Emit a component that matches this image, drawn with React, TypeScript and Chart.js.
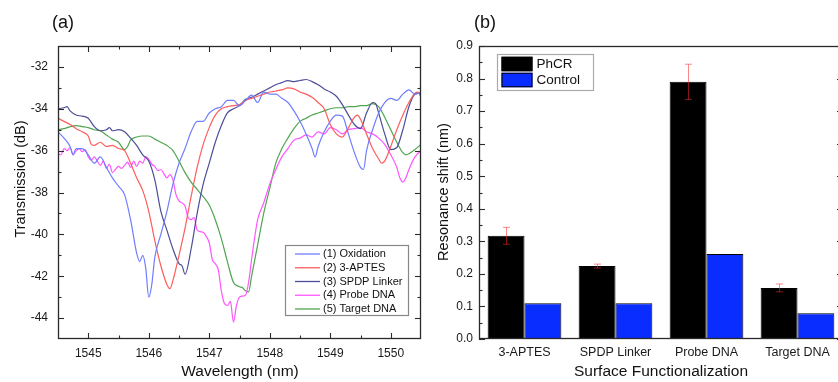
import React, { useEffect, useRef } from 'react';
import { Chart, registerables } from 'chart.js';

Chart.register(...registerables);

const FONT = "'Liberation Sans', Arial, sans-serif";

// ---------- Panel (a) data ----------
const wavelengthTicks = [1545, 1546, 1547, 1548, 1549, 1550];
const transmissionTicks = [-44, -42, -40, -38, -36, -34, -32];

const oxidation: [number, number][] = [
  [1544.5, -35.1], [1544.6, -35.4], [1544.7, -35.8], [1544.75, -36.2], [1544.8, -35.9], [1544.9, -35.9],
  [1545.0, -36.2], [1545.1, -36.6], [1545.2, -36.3], [1545.3, -36.8], [1545.4, -37.3], [1545.5, -37.7],
  [1545.6, -38.1], [1545.7, -39.3], [1545.8, -40.9], [1545.85, -41.3], [1545.9, -41.0], [1545.95, -41.6],
  [1546.0, -43.0], [1546.05, -42.4], [1546.1, -41.1], [1546.2, -40.0], [1546.3, -38.9], [1546.4, -37.6],
  [1546.5, -36.6], [1546.6, -35.9], [1546.7, -35.1], [1546.8, -34.6], [1546.9, -34.6], [1547.0, -34.2],
  [1547.1, -34.0], [1547.2, -33.9], [1547.3, -33.6], [1547.4, -33.6], [1547.5, -33.85], [1547.6, -33.6],
  [1547.7, -33.35], [1547.8, -33.7], [1547.9, -33.2], [1548.0, -33.3], [1548.1, -33.3], [1548.2, -33.5],
  [1548.3, -33.7], [1548.4, -34.1], [1548.5, -34.6], [1548.6, -35.2], [1548.7, -35.9], [1548.75, -36.3],
  [1548.8, -35.8], [1548.9, -35.1], [1549.0, -34.6], [1549.1, -34.3], [1549.2, -34.35], [1549.3, -35.2],
  [1549.4, -36.1], [1549.5, -36.8], [1549.55, -36.9], [1549.6, -36.0], [1549.7, -35.0], [1549.8, -34.2],
  [1549.9, -33.7], [1550.0, -33.5], [1550.1, -33.6], [1550.2, -33.3], [1550.3, -33.1], [1550.4, -33.3],
  [1550.5, -33.2],
];

const aptes: [number, number][] = [
  [1544.5, -34.45], [1544.6, -34.6], [1544.7, -34.75], [1544.8, -34.95], [1544.9, -35.1], [1545.0, -35.3],
  [1545.05, -35.7], [1545.1, -35.75], [1545.2, -35.6], [1545.3, -35.8], [1545.4, -35.75], [1545.5, -35.9],
  [1545.6, -36.0], [1545.7, -36.6], [1545.8, -37.3], [1545.9, -37.9], [1546.0, -38.9], [1546.1, -40.3],
  [1546.2, -41.5], [1546.3, -42.4], [1546.35, -42.6], [1546.4, -42.2], [1546.5, -41.0], [1546.6, -39.7],
  [1546.7, -38.2], [1546.8, -36.8], [1546.9, -35.7], [1547.0, -34.9], [1547.1, -34.3], [1547.2, -34.0],
  [1547.3, -33.9], [1547.4, -33.85], [1547.5, -33.8], [1547.6, -33.6], [1547.7, -33.5], [1547.8, -33.4],
  [1547.9, -33.3], [1548.0, -33.2], [1548.1, -33.15], [1548.2, -33.1], [1548.3, -33.0], [1548.4, -33.05],
  [1548.5, -33.2], [1548.6, -33.3], [1548.7, -33.45], [1548.8, -33.7], [1548.9, -34.0], [1549.0, -34.75],
  [1549.1, -35.2], [1549.2, -35.35], [1549.3, -34.9], [1549.4, -34.4], [1549.45, -34.3], [1549.5, -34.5],
  [1549.6, -35.2], [1549.7, -35.9], [1549.8, -36.4], [1549.85, -36.6], [1549.9, -36.5], [1550.0, -35.8],
  [1550.1, -35.0], [1550.2, -34.3], [1550.3, -33.7], [1550.4, -33.25], [1550.45, -33.2], [1550.5, -33.45],
];

const spdpLinker: [number, number][] = [
  [1544.5, -34.0], [1544.6, -33.95], [1544.65, -33.9], [1544.7, -34.1], [1544.8, -34.3], [1544.9, -34.35],
  [1545.0, -34.45], [1545.1, -34.85], [1545.2, -35.05], [1545.3, -35.0], [1545.35, -34.9], [1545.4, -35.05],
  [1545.5, -35.0], [1545.6, -35.1], [1545.7, -35.4], [1545.8, -35.75], [1545.9, -36.2], [1546.0, -36.5],
  [1546.1, -37.4], [1546.2, -38.9], [1546.3, -39.8], [1546.4, -40.7], [1546.5, -41.4], [1546.55, -41.5],
  [1546.6, -41.9], [1546.7, -40.7], [1546.8, -39.0], [1546.9, -37.6], [1547.0, -36.6], [1547.1, -35.6],
  [1547.2, -34.8], [1547.3, -34.2], [1547.4, -34.0], [1547.5, -33.85], [1547.6, -33.55], [1547.7, -33.45],
  [1547.8, -33.3], [1547.9, -33.15], [1548.0, -33.0], [1548.1, -32.85], [1548.2, -32.75], [1548.3, -32.65],
  [1548.4, -32.7], [1548.5, -32.65], [1548.6, -32.6], [1548.7, -32.7], [1548.8, -32.85], [1548.9, -33.05],
  [1549.0, -33.2], [1549.1, -33.4], [1549.2, -33.8], [1549.3, -34.3], [1549.4, -34.75], [1549.5, -34.95],
  [1549.6, -34.2], [1549.7, -33.7], [1549.75, -33.75], [1549.8, -34.2], [1549.9, -35.2], [1550.0, -35.95],
  [1550.1, -35.85], [1550.2, -35.0], [1550.3, -33.9], [1550.4, -33.3], [1550.5, -33.25],
];

const probeDna: [number, number][] = [
  [1544.5, -36.15], [1544.55, -36.2], [1544.6, -35.9], [1544.65, -36.0], [1544.7, -35.85], [1544.75, -36.2],
  [1544.8, -36.0], [1544.85, -35.9], [1544.9, -36.05], [1544.95, -35.95], [1545.0, -36.3], [1545.05, -36.45],
  [1545.1, -36.3], [1545.15, -36.5], [1545.2, -36.7], [1545.25, -36.5], [1545.3, -36.85], [1545.35, -36.65],
  [1545.4, -37.05], [1545.45, -36.9], [1545.5, -36.75], [1545.55, -36.85], [1545.6, -36.7], [1545.65, -36.55],
  [1545.7, -36.8], [1545.75, -36.5], [1545.8, -36.75], [1545.85, -36.5], [1545.9, -36.6], [1545.95, -36.3],
  [1546.0, -36.4], [1546.05, -36.65], [1546.1, -36.75], [1546.15, -36.95], [1546.2, -36.9], [1546.25, -37.1],
  [1546.3, -37.3], [1546.35, -37.15], [1546.4, -37.4], [1546.45, -38.1], [1546.5, -38.4], [1546.55, -38.5],
  [1546.6, -38.65], [1546.65, -39.2], [1546.7, -39.3], [1546.75, -39.2], [1546.8, -39.8], [1546.9, -39.9],
  [1546.95, -40.1], [1547.0, -40.4], [1547.05, -41.2], [1547.1, -41.4], [1547.15, -41.7], [1547.2, -42.7],
  [1547.25, -43.3], [1547.3, -43.4], [1547.35, -43.2], [1547.4, -44.2], [1547.45, -43.4], [1547.5, -43.0],
  [1547.55, -42.95], [1547.6, -42.9], [1547.65, -42.3], [1547.7, -41.2], [1547.8, -39.3], [1547.9, -38.5],
  [1548.0, -37.6], [1548.1, -36.9], [1548.2, -36.3], [1548.3, -35.9], [1548.4, -35.5], [1548.5, -35.4],
  [1548.6, -35.25], [1548.7, -35.35], [1548.8, -35.1], [1548.9, -35.2], [1549.0, -34.9], [1549.1, -35.0],
  [1549.2, -35.2], [1549.3, -35.0], [1549.4, -34.95], [1549.5, -34.9], [1549.6, -35.1], [1549.7, -35.2],
  [1549.8, -35.4], [1549.9, -35.7], [1550.0, -36.2], [1550.1, -36.8], [1550.15, -37.3], [1550.2, -37.5],
  [1550.25, -37.3], [1550.3, -36.9], [1550.4, -36.3], [1550.5, -36.0],
];

const targetDna: [number, number][] = [
  [1544.5, -35.0], [1544.6, -34.95], [1544.7, -34.85], [1544.8, -34.8], [1544.9, -34.85], [1545.0, -34.9],
  [1545.1, -35.0], [1545.2, -35.05], [1545.3, -35.25], [1545.4, -35.45], [1545.5, -35.6], [1545.6, -35.95],
  [1545.65, -35.8], [1545.7, -35.5], [1545.8, -35.35], [1545.9, -35.3], [1546.0, -35.3], [1546.1, -35.45],
  [1546.2, -35.6], [1546.3, -35.75], [1546.4, -36.0], [1546.5, -36.5], [1546.6, -37.05], [1546.7, -37.5],
  [1546.8, -37.85], [1546.9, -38.2], [1547.0, -38.6], [1547.1, -39.3], [1547.2, -40.2], [1547.3, -41.3],
  [1547.4, -42.3], [1547.5, -42.5], [1547.55, -42.55], [1547.6, -42.7], [1547.65, -42.75], [1547.7, -42.0],
  [1547.8, -40.5], [1547.9, -39.0], [1548.0, -37.8], [1548.1, -36.6], [1548.2, -35.9], [1548.3, -35.4],
  [1548.4, -34.95], [1548.5, -34.6], [1548.6, -34.45], [1548.7, -34.3], [1548.8, -34.2], [1548.9, -34.1],
  [1549.0, -34.0], [1549.1, -33.95], [1549.2, -33.95], [1549.3, -33.9], [1549.4, -33.9], [1549.5, -33.85],
  [1549.6, -33.85], [1549.7, -33.75], [1549.8, -33.9], [1549.9, -34.4], [1550.0, -35.0], [1550.1, -35.6],
  [1550.2, -36.1], [1550.25, -36.2], [1550.3, -36.15], [1550.4, -35.95], [1550.5, -35.7],
];

const seriesLabels = ['(1) Oxidation', '(2) 3-APTES', '(3) SPDP Linker', '(4) Probe DNA', '(5) Target DNA'];
const seriesColors = ['#6f7dff', '#ff5c5c', '#4d4d99', '#ff55ff', '#4fa64f'];

// ---------- Panel (b) data ----------
const categories = ['3-APTES', 'SPDP Linker', 'Probe DNA', 'Target DNA'];
const phcrShift = [0.317, 0.224, 0.79, 0.157];
const phcrError = [0.026, 0.006, 0.054, 0.012];
const controlShift = [0.11, 0.11, 0.261, 0.079];
const shiftTicks = [0, 0.1, 0.2, 0.3, 0.4, 0.5, 0.6, 0.7, 0.8, 0.9];

// ---------- plugins ----------
const framePlugin = {
  id: 'frame',
  afterDraw(chart: any, _a: any, o: any) {
    const { ctx, chartArea: a } = chart;
    ctx.save();
    ctx.strokeStyle = o.color;
    ctx.lineWidth = o.lineWidth;
    ctx.strokeRect(a.left + 0.5, a.top + 0.5, a.right - a.left - 1, a.bottom - a.top - 1);
    ctx.lineWidth = 1.1;
    for (const ax of o.axes) {
      const scale = chart.scales[ax.id];
      const majors: number[] = scale.ticks.map((t: any) => t.value);
      const step = majors.length > 1 ? majors[1] - majors[0] : 0;
      const minors: number[] = [];
      if (step) {
        for (let i = -1; i < majors.length; i++) {
          const base = i < 0 ? majors[0] - step : majors[i];
          const v = base + step / 2;
          if (v > scale.min + 1e-9 && v < scale.max - 1e-9) minors.push(v);
        }
      }
      const draw = (v: number, len: number) => {
        const p = Math.round(scale.getPixelForValue(v)) + 0.5;
        for (const side of ax.sides) {
          ctx.beginPath();
          if (side === 'bottom') { ctx.moveTo(p, a.bottom); ctx.lineTo(p, a.bottom - len); }
          if (side === 'top') { ctx.moveTo(p, a.top); ctx.lineTo(p, a.top + len); }
          if (side === 'left') { ctx.moveTo(a.left, p); ctx.lineTo(a.left + len, p); }
          if (side === 'right') { ctx.moveTo(a.right, p); ctx.lineTo(a.right - len, p); }
          ctx.stroke();
        }
      };
      majors.forEach((v) => draw(v, ax.major));
      minors.forEach((v) => draw(v, ax.minor));
    }
    ctx.restore();
  },
};

const boxLegendPlugin = {
  id: 'boxLegend',
  afterDraw(chart: any, _a: any, o: any) {
    const { ctx } = chart;
    ctx.save();
    ctx.fillStyle = '#ffffff';
    ctx.fillRect(o.x, o.y, o.w, o.h);
    ctx.strokeStyle = o.borderColor;
    ctx.lineWidth = 1.2;
    ctx.strokeRect(o.x + 0.5, o.y + 0.5, o.w, o.h);
    ctx.font = o.font;
    ctx.textBaseline = 'middle';
    ctx.textAlign = 'left';
    chart.data.datasets.forEach((ds: any, i: number) => {
      const cy = o.y + o.firstRow + i * o.rowH;
      if (o.kind === 'line') {
        ctx.strokeStyle = ds.borderColor;
        ctx.lineWidth = 1.3;
        ctx.beginPath();
        ctx.moveTo(o.x + o.swX, cy);
        ctx.lineTo(o.x + o.swX + o.swW, cy);
        ctx.stroke();
      } else {
        ctx.fillStyle = ds.backgroundColor;
        ctx.fillRect(o.x + o.swX, cy - o.swH / 2, o.swW, o.swH);
        ctx.strokeStyle = '#000';
        ctx.lineWidth = 1;
        ctx.strokeRect(o.x + o.swX + 0.5, cy - o.swH / 2 + 0.5, o.swW - 1, o.swH - 1);
      }
      ctx.fillStyle = '#111';
      ctx.fillText(ds.label, o.x + o.textX, cy);
    });
    ctx.restore();
  },
};

const textsPlugin = {
  id: 'texts',
  afterDraw(chart: any, _a: any, o: any) {
    const { ctx } = chart;
    for (const t of o.items) {
      ctx.save();
      ctx.translate(t.x, t.y);
      if (t.rotate) ctx.rotate(t.rotate);
      ctx.font = t.font;
      ctx.fillStyle = '#111';
      ctx.textAlign = 'center';
      ctx.textBaseline = 'middle';
      ctx.fillText(t.text, 0, 0);
      ctx.restore();
    }
  },
};

const errorBarPlugin = {
  id: 'errorBars',
  afterDatasetsDraw(chart: any, _a: any, o: any) {
    const { ctx } = chart;
    const meta = chart.getDatasetMeta(o.datasetIndex);
    const ds = chart.data.datasets[o.datasetIndex];
    const ys = chart.scales.y;
    ctx.save();
    ctx.strokeStyle = o.color;
    ctx.lineWidth = 1;
    meta.data.forEach((el: any, i: number) => {
      const v = ds.data[i];
      const e = o.errors[i];
      const x = Math.round(el.x) + 0.5;
      const t = ys.getPixelForValue(v + e);
      const b = ys.getPixelForValue(v - e);
      ctx.beginPath();
      ctx.moveTo(x, t); ctx.lineTo(x, b);
      ctx.moveTo(x - o.cap, t); ctx.lineTo(x + o.cap, t);
      ctx.moveTo(x - o.cap, b); ctx.lineTo(x + o.cap, b);
      ctx.stroke();
    });
    ctx.restore();
  },
};

function SpectraChart() {
  const ref = useRef<HTMLCanvasElement>(null);
  useEffect(() => {
    const series = [oxidation, aptes, spdpLinker, probeDna, targetDna];
    const chart = new Chart(ref.current as HTMLCanvasElement, {
      type: 'line',
      data: {
        datasets: series.map((s, i) => ({
          label: seriesLabels[i],
          data: s.map(([x, y]) => ({ x, y })),
          borderColor: seriesColors[i],
          borderWidth: 1.2,
          pointRadius: 0,
          fill: false,
          cubicInterpolationMode: 'monotone' as const,
        })),
      },
      options: {
        responsive: false,
        animation: false,
        events: [],
        layout: { padding: { top: 46, right: 2, bottom: 0, left: 0 } },
        scales: {
          x: {
            type: 'linear',
            min: 1544.5,
            max: 1550.5,
            grid: { display: false, drawTicks: false },
            border: { display: false },
            afterBuildTicks: (s: any) => { s.ticks = wavelengthTicks.map((v) => ({ value: v })); },
            afterFit: (s: any) => { s.height = 43; },
            ticks: {
              font: { family: FONT, size: 12 },
              color: '#1a1a1a',
              padding: 7,
              maxRotation: 0,
              callback: (v: any) => String(v),
            },
          },
          y: {
            type: 'linear',
            min: -45,
            max: -31,
            grid: { display: false, drawTicks: false },
            border: { display: false },
            afterBuildTicks: (s: any) => { s.ticks = transmissionTicks.map((v) => ({ value: v })); },
            afterFit: (s: any) => { s.width = 58; },
            ticks: {
              font: { family: FONT, size: 12 },
              color: '#1a1a1a',
              padding: 10,
              callback: (v: any) => String(v),
            },
          },
        },
        plugins: {
          legend: { display: false },
          tooltip: { enabled: false },
          frame: {
            color: '#2a2a2a',
            lineWidth: 1.3,
            axes: [
              { id: 'x', sides: ['bottom', 'top'], major: 6, minor: 3.5 },
              { id: 'y', sides: ['left', 'right'], major: 6, minor: 3.5 },
            ],
          },
          boxLegend: {
            kind: 'line', x: 285, y: 245, w: 123, h: 70, firstRow: 9, rowH: 13.75,
            swX: 10, swW: 25, textX: 38, borderColor: '#888', font: `11px ${FONT}`,
          },
          texts: {
            items: [
              { text: '(a)', x: 63, y: 23, font: `18px ${FONT}` },
              { text: 'Transmission (dB)', x: 21, y: 179, rotate: -Math.PI / 2, font: `14.5px ${FONT}` },
              { text: 'Wavelength (nm)', x: 240, y: 372, font: `15.5px ${FONT}` },
            ],
          },
        } as any,
      },
      plugins: [framePlugin, boxLegendPlugin, textsPlugin],
    } as any);
    return () => chart.destroy();
  }, []);
  return <canvas ref={ref} width={423} height={382} style={{ position: 'absolute', left: 0, top: 0 }} />;
}

function ShiftChart() {
  const ref = useRef<HTMLCanvasElement>(null);
  useEffect(() => {
    const chart = new Chart(ref.current as HTMLCanvasElement, {
      type: 'bar',
      data: {
        labels: categories,
        datasets: [
          { label: 'PhCR', data: phcrShift, backgroundColor: '#000000', borderColor: '#000', borderWidth: 1 },
          { label: 'Control', data: controlShift, backgroundColor: '#0a2dff', borderColor: '#000', borderWidth: 1 },
        ],
      },
      options: {
        responsive: false,
        animation: false,
        events: [],
        layout: { padding: { top: 46, right: 1, bottom: 0, left: 0 } },
        datasets: { bar: { barPercentage: 1, categoryPercentage: 0.81 } },
        scales: {
          x: {
            type: 'category',
            grid: { display: false, drawTicks: false },
            border: { display: false },
            afterFit: (s: any) => { s.height = 43; },
            ticks: { font: { family: FONT, size: 12.5 }, color: '#1a1a1a', padding: 6, maxRotation: 0 },
          },
          y: {
            type: 'linear',
            min: 0,
            max: 0.9,
            grid: { display: false, drawTicks: false },
            border: { display: false },
            afterBuildTicks: (s: any) => { s.ticks = shiftTicks.map((v) => ({ value: v })); },
            afterFit: (s: any) => { s.width = 59; },
            ticks: {
              font: { family: FONT, size: 12 },
              color: '#1a1a1a',
              padding: 6,
              callback: (v: any) => Number(v).toFixed(1),
            },
          },
        },
        plugins: {
          legend: { display: false },
          tooltip: { enabled: false },
          frame: {
            color: '#2a2a2a',
            lineWidth: 1.3,
            axes: [{ id: 'y', sides: ['left', 'right'], major: 6, minor: 3.5 }],
          },
          errorBars: { datasetIndex: 0, errors: phcrError, color: 'rgba(255,40,40,0.55)', cap: 3.5 },
          boxLegend: {
            kind: 'box', x: 77, y: 54, w: 96, h: 36, firstRow: 10, rowH: 16,
            swX: 4.5, swW: 31, swH: 14.5, textX: 39.5, borderColor: '#aaa', font: `13.5px ${FONT}`,
          },
          texts: {
            items: [
              { text: '(b)', x: 65, y: 23, font: `18px ${FONT}` },
              { text: 'Resonance shift (nm)', x: 24, y: 192, rotate: -Math.PI / 2, font: `14.5px ${FONT}` },
              { text: 'Surface Functionalization', x: 241, y: 372, font: `15.5px ${FONT}` },
            ],
          },
        } as any,
      },
      plugins: [framePlugin, errorBarPlugin, boxLegendPlugin, textsPlugin],
    } as any);
    return () => chart.destroy();
  }, []);
  return <canvas ref={ref} width={424} height={382} style={{ position: 'absolute', left: 420, top: 0 }} />;
}

export default function App() {
  return (
    <div
      style={{
        position: 'fixed',
        left: 0,
        top: 0,
        width: 838,
        height: 382,
        overflow: 'hidden',
        background: '#ffffff',
      }}
    >
      <SpectraChart />
      <ShiftChart />
    </div>
  );
}
